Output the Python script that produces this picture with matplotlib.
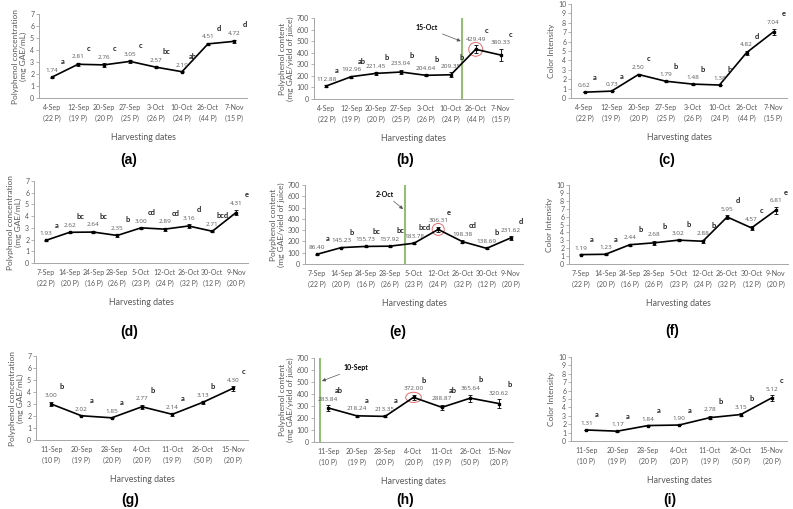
import numpy as np
import matplotlib
matplotlib.use('Agg')
import matplotlib.pyplot as plt
from matplotlib.patches import Ellipse

plt.rcParams['font.family'] = ['Lato', 'DejaVu Sans']

# ---- season 1 (a, b, c)
dates1 = ['4-Sep\n(22 P)', '12-Sep\n(19 P)', '20-Sep\n(20 P)', '27-Sep\n(25 P)',
          '3-Oct\n(26 P)', '10-Oct\n(24 P)', '26-Oct\n(44 P)', '7-Nov\n(15 P)']
conc1 = [1.74, 2.81, 2.76, 3.05, 2.57, 2.19, 4.51, 4.72]
conc1_err = [0.05, 0.12, 0.15, 0.10, 0.08, 0.06, 0.10, 0.15]
conc1_let = ['a', 'c', 'c', 'c', 'bc', 'ab', 'd', 'd']
cont1 = [112.88, 192.96, 221.45, 233.04, 204.64, 209.35, 429.49, 380.33]
cont1_err = [8, 8, 12, 18, 10, 20, 35, 55]
cont1_let = ['a', 'ab', 'b', 'b', 'b', 'b', 'c', 'c']
col1 = [0.62, 0.73, 2.50, 1.79, 1.48, 1.38, 4.82, 7.04]
col1_err = [0.03, 0.03, 0.10, 0.05, 0.05, 0.05, 0.20, 0.35]
col1_let = ['a', 'a', 'c', 'b', 'b', 'b', 'd', 'e']

# ---- season 2 (d, e, f)
dates2 = ['7-Sep\n(22 P)', '14-Sep\n(20 P)', '24-Sep\n(16 P)', '28-Sep\n(26 P)',
          '5-Oct\n(23 P)', '12-Oct\n(24 P)', '26-Oct\n(32 P)', '30-Oct\n(12 P)',
          '9-Nov\n(20 P)']
conc2 = [1.93, 2.62, 2.64, 2.35, 3.00, 2.89, 3.16, 2.71, 4.31]
conc2_err = [0.05, 0.06, 0.10, 0.10, 0.06, 0.12, 0.15, 0.06, 0.25]
conc2_let = ['a', 'bc', 'bc', 'b', 'cd', 'cd', 'd', 'bcd', 'e']
cont2 = [86.40, 145.23, 155.73, 157.92, 183.78, 306.31, 198.38, 138.69, 231.62]
cont2_err = [6, 6, 6, 6, 8, 22, 10, 8, 15]
cont2_let = ['a', 'b', 'bc', 'bc', 'bcd', 'e', 'cd', 'b', 'd']
col2 = [1.19, 1.23, 2.44, 2.68, 3.02, 2.88, 5.95, 4.57, 6.81]
col2_err = [0.05, 0.06, 0.10, 0.25, 0.10, 0.20, 0.25, 0.30, 0.45]
col2_let = ['a', 'a', 'b', 'b', 'b', 'b', 'd', 'c', 'e']

# ---- season 3 (g, h, i)
dates3 = ['11-Sep\n(10 P)', '20-Sep\n(19 P)', '28-Sep\n(20 P)', '4-Oct\n(20 P)',
          '11-Oct\n(19 P)', '26-Oct\n(50 P)', '15-Nov\n(20 P)']
conc3 = [3.00, 2.02, 1.85, 2.77, 2.14, 3.13, 4.30]
conc3_err = [0.20, 0.05, 0.05, 0.15, 0.10, 0.10, 0.20]
conc3_let = ['b', 'a', 'a', 'b', 'a', 'b', 'c']
cont3 = [283.84, 218.24, 213.35, 372.00, 288.87, 365.64, 320.62]
cont3_err = [22, 8, 8, 20, 20, 30, 35]
cont3_let = ['ab', 'a', 'a', 'b', 'ab', 'b', 'b']
col3 = [1.31, 1.17, 1.84, 1.90, 2.78, 3.15, 5.12]
col3_err = [0.05, 0.05, 0.05, 0.05, 0.20, 0.15, 0.30]
col3_let = ['a', 'a', 'a', 'a', 'b', 'b', 'c']

conc_label = 'Polyphenol concentration\n(mg GAE/mL)'
cont_label = 'Polyphenol content\n(mg GAE/yield of juice)'
col_label = 'Color Intensity'

W, H = 793, 509
GRAY = '#595959'


def box(l, r, t, b):
    return [l / W, 1 - b / H, (r - l) / W, (b - t) / H]


def panel(ax, dates, vals, errs, lets, ymax, ystep, ylabel, tag, tagpos):
    x = np.arange(len(vals))
    ax.errorbar(x, vals, yerr=errs, color='black', lw=1.2, marker='s', ms=1.8,
                capsize=1.5, elinewidth=0.6, capthick=0.6)
    ax.set_xlim(-0.5, len(vals) - 0.5)
    ax.set_ylim(0, ymax)
    ax.set_yticks(np.arange(0, ymax + ystep / 2, ystep))
    ax.set_xticks(x)
    ax.set_xticklabels(dates, linespacing=1.7)
    for s in ['top', 'right']:
        ax.spines[s].set_visible(False)
    for s in ['left', 'bottom']:
        ax.spines[s].set_color('#a6a6a6')
        ax.spines[s].set_linewidth(0.7)
    ax.tick_params(axis='y', labelsize=5, colors='#a6a6a6', labelcolor=GRAY,
                   length=2, width=0.6, pad=1.5)
    ax.tick_params(axis='x', labelsize=5, labelcolor=GRAY, length=0, pad=4)
    for i, (v, e, l) in enumerate(zip(vals, errs, lets)):
        ax.annotate(f'{v:.2f}', (i, v + e), xytext=(0, 2.5), textcoords='offset points',
                    ha='center', va='bottom', fontsize=4.6, color=GRAY,
                    family=['Open Sans', 'DejaVu Sans'])
        ax.annotate(l, (i, v + e), xytext=(7.5, 8), textcoords='offset points',
                    ha='center', va='bottom', fontsize=5.4, fontweight='bold', color='#222222')
    ax.set_xlabel('Harvesting dates', fontsize=6.3, color=GRAY, labelpad=8)
    ax.set_ylabel(ylabel, fontsize=6, color=GRAY, labelpad=2, linespacing=1.15)
    fig.text(tagpos[0] / W, 1 - tagpos[1] / H, tag, fontsize=10, fontweight='bold',
             family='Liberation Sans', ha='center', va='center')


def marker_line(ax, xline, text, xy, xytext):
    ax.axvline(xline, color='#70ad47', lw=1.1)
    ax.annotate(text, xy=xy, xytext=xytext, fontsize=5, fontweight='bold',
                ha='center', va='center',
                arrowprops=dict(arrowstyle='-|>', color='#555555', lw=0.5,
                                mutation_scale=5, shrinkA=1, shrinkB=0))


def ring(ax, x, y, w, h):
    ax.add_patch(Ellipse((x, y), w, h, fill=False, edgecolor='#e46c6c', lw=0.7))


fig = plt.figure(figsize=(W / 100, H / 100), dpi=100)

ax_a = fig.add_axes(box(39, 247, 14, 98))
ax_b = fig.add_axes(box(314, 513, 18, 99))
ax_c = fig.add_axes(box(571, 787, 4, 98))
ax_d = fig.add_axes(box(34, 248, 181, 263))
ax_e = fig.add_axes(box(305, 523, 185, 264))
ax_f = fig.add_axes(box(569, 788, 185, 264))
ax_g = fig.add_axes(box(36, 248, 356, 440))
ax_h = fig.add_axes(box(314, 513, 358, 442))
ax_i = fig.add_axes(box(571, 787, 357, 441))

panel(ax_a, dates1, conc1, conc1_err, conc1_let, 7, 1, conc_label, '(a)', (129, 160))
panel(ax_b, dates1, cont1, cont1_err, cont1_let, 700, 100, cont_label, '(b)', (405, 160))
panel(ax_c, dates1, col1, col1_err, col1_let, 10, 1, col_label, '(c)', (667, 160))
panel(ax_d, dates2, conc2, conc2_err, conc2_let, 7, 1, conc_label, '(d)', (129, 332))
panel(ax_e, dates2, cont2, cont2_err, cont2_let, 700, 100, cont_label, '(e)', (398, 332))
panel(ax_f, dates2, col2, col2_err, col2_let, 10, 1, col_label, '(f)', (672, 331))
panel(ax_g, dates3, conc3, conc3_err, conc3_let, 7, 1, conc_label, '(g)', (130, 500))
panel(ax_h, dates3, cont3, cont3_err, cont3_let, 700, 100, cont_label, '(h)', (405, 500))
panel(ax_i, dates3, col3, col3_err, col3_let, 10, 1, col_label, '(i)', (670, 500))

marker_line(ax_b, 5.44, '15-Oct', (5.4, 500), (4.05, 614))
ring(ax_b, 6, cont1[6], 0.56, 120)
marker_line(ax_e, 3.63, '2-Oct', (3.55, 487), (2.8, 620))
ring(ax_e, 5, cont2[5], 0.5, 106)
marker_line(ax_h, -0.3, '10-Sept', (-0.22, 508), (0.98, 617))
ring(ax_h, 3, cont3[3], 0.55, 85)

fig.savefig('out.png', dpi=100)
